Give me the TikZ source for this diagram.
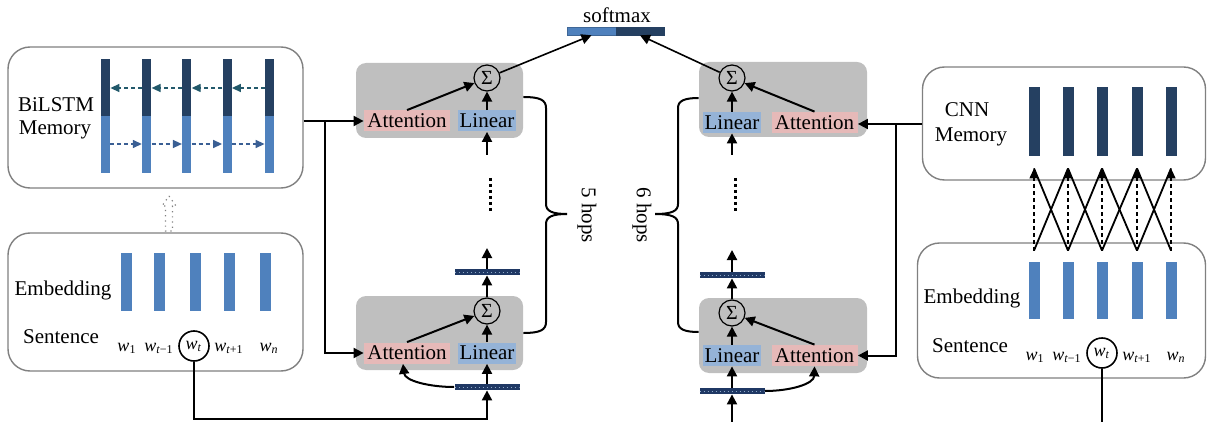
\documentclass[tikz,border=0pt]{standalone}
\usepackage{fontspec}
\setmainfont{Liberation Serif}
\usetikzlibrary{arrows.meta,calc}
\definecolor{lightc}{HTML}{4F81BD}
\definecolor{darkc}{HTML}{254061}
\definecolor{pinkc}{HTML}{E6B9B8}
\definecolor{bluec}{HTML}{95B3D7}
\definecolor{modg}{HTML}{BFBFBF}
\definecolor{boxg}{HTML}{808080}
\definecolor{tealc}{HTML}{22596B}
\definecolor{arrblue}{HTML}{3A5F94}
\definecolor{navyc}{HTML}{1F3864}
\definecolor{dotc}{HTML}{8EA9C8}
\newcommand{\wsub}[1]{\textit{w}\textsubscript{#1}}
\begin{document}
\begin{tikzpicture}[x=0.5pt,y=-0.5pt,
  mf/.style={font=\fontsize{10.5}{12}\selectfont},
  lbl/.style={mf, inner sep=0, anchor=base},
  bigbox/.style={draw=boxg, line width=0.7pt, rounded corners=11pt, inner sep=0, fill=white},
  module/.style={fill=modg, rounded corners=5pt, inner sep=0},
  attbox/.style={mf, fill=pinkc, inner sep=0, minimum width=43pt, minimum height=10.5pt},
  linbox/.style={mf, fill=bluec, inner sep=0, minimum width=29pt, minimum height=10.5pt},
  sig/.style={circle, draw, line width=0.6pt, minimum size=13pt, inner sep=0, font=\fontsize{10}{10}\selectfont},
  darkbar/.style={fill=darkc, inner sep=0},
  lightbar/.style={fill=lightc, inner sep=0},
  minibar/.style={fill=navyc, inner sep=0, minimum width=32.5pt, minimum height=3pt,
     path picture={\draw[dotc, line width=0.5pt, dash pattern=on 0.5pt off 1.5pt]
       (path picture bounding box.west) -- (path picture bounding box.east);}},
  word/.style={font=\fontsize{9}{10}\selectfont, inner sep=0, anchor=base},
  wcirc/.style={circle, draw, line width=0.8pt, minimum size=15pt, inner sep=0, font=\fontsize{9}{10}\selectfont},
  arr/.style={line width=1pt, -{Triangle[length=5pt,width=5pt]}},
  thinarr/.style={line width=0.8pt, -{Triangle[length=5pt,width=5pt]}},
  ln/.style={line width=1pt},
  tealarr/.style={draw=tealc, line width=0.7pt, dash pattern=on 2pt off 1.5pt, -{Triangle[length=4.5pt,width=4pt]}},
  bluearr/.style={draw=arrblue, line width=0.7pt, dash pattern=on 2pt off 1.5pt, -{Triangle[length=4.5pt,width=4pt]}},
  crossln/.style={line width=0.9pt},
  crossdash/.style={line width=0.6pt, dash pattern=on 2pt off 1.5pt, -{Triangle[length=5pt,width=4.5pt]}},
  dotsty/.style={line width=1.5pt, dash pattern=on 1.5pt off 1.5pt},
]
\useasboundingbox (0,0) rectangle (1208,422);

% ---------- big rounded boxes
\node[bigbox, minimum width=147.5pt, minimum height=70.5pt] (bil) at (155.5,117.5) {};
\node[bigbox, minimum width=147.5pt, minimum height=69pt] (embL) at (155.5,302) {};
\node[bigbox, minimum width=141.5pt, minimum height=56.5pt] (cnn) at (1064,123.5) {};
\node[bigbox, minimum width=144pt, minimum height=67.5pt] (embR) at (1061.5,310.5) {};

% ---------- texts in boxes
\node[lbl] (t1) at (56,112) {BiLSTM};
\node[lbl] (t2) at (55,135) {Memory};
\node[lbl] (t3) at (63,295) {Embedding};
\node[lbl] (t4) at (61,343) {Sentence};
\node[lbl] (t5) at (967,117) {CNN};
\node[lbl] (t6) at (971,142) {Memory};
\node[lbl] (t7) at (972,303) {Embedding};
\node[lbl] (t8) at (970,352) {Sentence};

% ---------- BiLSTM bars
\foreach \i/\x in {1/105.5,2/146.7,3/186.8,4/227,5/269.5}{
  \node[darkbar, minimum width=4.5pt, minimum height=28.5pt] (bd\i) at (\x,87.5) {};
  \node[lightbar, minimum width=4.5pt, minimum height=28.5pt] (bl\i) at (\x,144.5) {};
}
\coordinate (yT) at (0,88);
\coordinate (yB) at (0,144);
\foreach \i/\j in {2/1,3/2,4/3,5/4}
  \draw[tealarr] (bd\i.west |- yT) -- (bd\j.east |- yT);
\foreach \i/\j in {1/2,2/3,3/4,4/5}
  \draw[bluearr] (bl\i.east |- yB) -- (bl\j.west |- yB);

% ---------- hollow dotted arrow
\draw[draw=gray, dotted, line width=0.6pt] (169,196) -- (176,206) -- (172.5,206) -- (172.5,231)
   -- (165.5,231) -- (165.5,206) -- (162,206) -- cycle;

% ---------- left embedding bars and words
\foreach \i/\x in {1/126,2/159,3/195,4/229,5/265}
  \node[lightbar, minimum width=5.5pt, minimum height=29pt] (eL\i) at (\x,282) {};
\node[word] (w1L) at (127,351) {\wsub{1}};
\node[word] (w2L) at (159,351) {\wsub{\textit{t}−1}};
\node[wcirc] (wtL) at (194,346) {\wsub{\textit{t}}};
\node[word] (w4L) at (229,351) {\wsub{\textit{t}+1}};
\node[word] (w5L) at (269,351) {\wsub{\textit{n}}};

% ---------- CNN bars, right embedding bars, words
\foreach \i/\x in {1/1034,2/1068,3/1102,4/1137,5/1171}{
  \node[darkbar, minimum width=5.5pt, minimum height=34.5pt] (c\i) at (\x,121.5) {};
  \node[lightbar, minimum width=5.5pt, minimum height=28.5pt] (eR\i) at (\x,290.5) {};
  \coordinate (ct\i) at ($(c\i.south)+(0,12)$);
  \coordinate (cb\i) at ($(eR\i.north)+(0,-11)$);
}
\foreach \i in {1,...,5}
  \draw[crossdash] (cb\i) -- (ct\i);
\foreach \i/\j in {1/2,2/3,3/4,4/5}{
  \draw[crossln] (cb\i) -- (ct\j);
  \draw[crossln] (cb\j) -- (ct\i);
}
\node[word] (w1R) at (1035,360) {\wsub{1}};
\node[word] (w2R) at (1067,360) {\wsub{\textit{t}−1}};
\node[wcirc] (wtR) at (1102,353) {\wsub{\textit{t}}};
\node[word] (w4R) at (1137,360) {\wsub{\textit{t}+1}};
\node[word] (w5R) at (1176,360) {\wsub{\textit{n}}};

% ---------- gray modules
\node[module, minimum width=83.5pt, minimum height=37.5pt] (gL1) at (439.5,100.5) {};
\node[module, minimum width=83.5pt, minimum height=37pt] (gL2) at (439.5,333) {};
\node[module, minimum width=84pt, minimum height=37.5pt] (gR1) at (783,99.5) {};
\node[module, minimum width=84pt, minimum height=37.5pt] (gR2) at (783,335.5) {};

\node[attbox] (aL1) at (407,121) {Attention};
\node[linbox] (nL1) at (487,121) {Linear};
\node[attbox] (aL2) at (407,353) {Attention};
\node[linbox] (nL2) at (487,353) {Linear};
\node[linbox] (nR1) at (732,122.5) {Linear};
\node[attbox] (aR1) at (814.5,122.5) {Attention};
\node[linbox] (nR2) at (732,355.5) {Linear};
\node[attbox] (aR2) at (814.5,355.5) {Attention};

\node[sig] (sL1) at (487,78) {Σ};
\node[sig] (sL2) at (487,311) {Σ};
\node[sig] (sR1) at (732,78) {Σ};
\node[sig] (sR2) at (732,313) {Σ};

\node[minibar] (bL2t) at (487,272) {};
\node[minibar] (bL2b) at (487,387) {};
\node[minibar] (bR2t) at (732,275) {};
\node[minibar] (bR2b) at (732,391) {};

% ---------- softmax
\node[fill=lightc, draw=lightc!80!black, line width=0.3pt, inner sep=0, minimum width=24.5pt, minimum height=4pt] (smL) at (591.5,31) {};
\node[fill=darkc, draw=darkc, line width=0.3pt, inner sep=0, minimum width=24pt, minimum height=4pt] (smR) at (640,31) {};
\node[lbl] (smt) at (617,23) {softmax};
\draw[thinarr] (sL1) -- (smL.south);
\draw[thinarr] (sR1) -- (smR.south);

% ---------- inner module arrows
\draw[arr] (aL1.north) -- (sL1);
\draw[arr] (nL1.north) -- (sL1.south);
\draw[arr] (aL2.north) -- (sL2);
\draw[arr] (nL2.north) -- (sL2.south);
\draw[arr] (aR1.north) -- (sR1);
\draw[arr] (nR1.north) -- (sR1.south);
\draw[arr] (aR2.north) -- (sR2);
\draw[arr] (nR2.north) -- (sR2.south);

% upper modules input
\coordinate (inL1) at (487,155);
\coordinate (inR1) at (732,155);
\draw[arr] (inL1) -- (nL1.south);
\draw[arr] (inR1) -- (nR1.south);
\coordinate (dL1) at (490,178);
\coordinate (dL2) at (490,214);
\coordinate (dR1) at (735,178);
\coordinate (dR2) at (735,214);
\draw[dotsty] (dL1) -- (dL2);
\draw[dotsty] (dR1) -- (dR2);

% lower modules
\coordinate (oL2) at (487,248);
\coordinate (oR2) at (732,250);
\draw[arr] (sL2.north) -- (bL2t.south);
\draw[arr] (bL2t.north) -- (oL2);
\draw[arr] (sR2.north) -- (bR2t.south);
\draw[arr] (bR2t.north) -- (oR2);
\draw[arr] (bL2b.north) -- (nL2.south);
\draw[arr] (bR2b.north) -- (nR2.south);
\draw[arr] (bL2b.west) .. controls (430,387) and (405,381) .. ([xshift=-2pt]aL2.south);
\draw[arr] (bR2b.east) .. controls (790,391) and (814,384) .. (aR2.south);

% bottom feeds
\coordinate (botL) at (0,419);
\coordinate (bot) at (0,422);
\draw[arr] (wtL.south) |- (bL2b.south |- botL) -- (bL2b.south);
\draw[arr] (bR2b.south |- bot) -- (bR2b.south);
\draw[ln] (wtR.south) -- (wtR.south |- bot);

% memory feeds
\coordinate (brL) at (325,121);
\draw[arr] (bil.east |- aL1.west) -- (aL1.west);
\draw[arr] (brL) |- (aL2.west);
\coordinate (brR) at (896,124);
\draw[arr] (cnn.west |- brR) -- (aR1.east |- brR);
\draw[arr] (brR) |- (aR2.east);

% ---------- braces
\coordinate (tp5) at (567,214);
\coordinate (tp6) at (655,214);
\draw[ln] ([yshift=1.75pt]gL1.east) .. controls (540,97) and (546,100) .. (546,108) -- (546,204)
   .. controls (546,211) and (552,214) .. (tp5) .. controls (552,214) and (546,217) .. (546,224)
   -- (546,322) .. controls (546,330) and (540,333) .. (gL2.east);
\draw[ln] ([yshift=0.75pt]gR1.west) .. controls (684,98) and (678,101) .. (678,108) -- (678,204)
   .. controls (678,211) and (672,214) .. (tp6) .. controls (672,214) and (678,217) .. (678,224)
   -- (678,322) .. controls (678,329) and (684,332) .. ([yshift=1.75pt]gR2.west);
\node[mf, rotate=-90, inner sep=0] (h5) at (587,215) {5 hops};
\node[mf, rotate=-90, inner sep=0] (h6) at (642,215) {6 hops};
\end{tikzpicture}
\end{document}
